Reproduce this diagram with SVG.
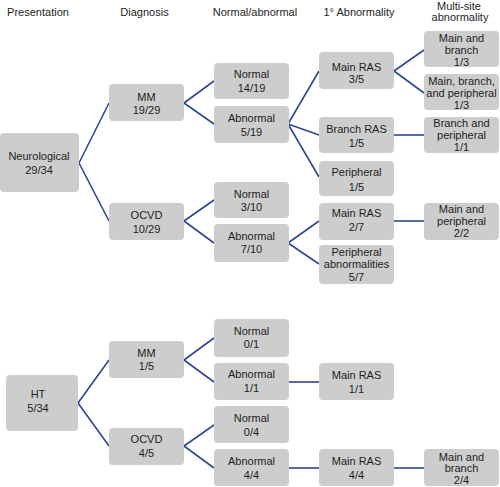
<svg xmlns="http://www.w3.org/2000/svg" width="500" height="487" viewBox="0 0 500 487">
<style>
text{font-family:"Liberation Sans",Arial,sans-serif;font-size:11px;fill:#1e1e1e;text-anchor:middle}
.box{fill:#cdcdcd;stroke:none}
.conn line{stroke:#2f4592;stroke-width:1.6;fill:none}
</style>
<rect width="500" height="487" fill="#ffffff"/>
<g id="headers">
<text x="38" y="16">Presentation</text>
<text x="144.5" y="16">Diagnosis</text>
<text x="255" y="16">Normal/abnormal</text>
<text x="359" y="16">1° Abnormality</text>
<text x="459" y="10">Multi-site</text>
<text x="460" y="21">abnormality</text>
</g>
<g class="conn" id="connectors">
<line x1="79" y1="163" x2="109" y2="103"/>
<line x1="79" y1="163" x2="109" y2="221"/>
<line x1="184" y1="103" x2="214" y2="81"/>
<line x1="184" y1="103" x2="214" y2="124"/>
<line x1="184" y1="221" x2="214" y2="200"/>
<line x1="184" y1="221" x2="214" y2="243"/>
<line x1="288" y1="124" x2="319" y2="71"/>
<line x1="288" y1="124" x2="319" y2="135"/>
<line x1="288" y1="124" x2="319" y2="177"/>
<line x1="394" y1="71" x2="424" y2="50"/>
<line x1="394" y1="71" x2="424" y2="93"/>
<line x1="394" y1="135" x2="424" y2="135"/>
<line x1="288" y1="243" x2="319" y2="221"/>
<line x1="288" y1="243" x2="319" y2="264"/>
<line x1="394" y1="221" x2="424" y2="221"/>
<line x1="78" y1="403" x2="109" y2="360"/>
<line x1="78" y1="403" x2="109" y2="446"/>
<line x1="184" y1="360" x2="214" y2="338"/>
<line x1="184" y1="360" x2="214" y2="382"/>
<line x1="184" y1="446" x2="214" y2="425"/>
<line x1="184" y1="446" x2="214" y2="468"/>
<line x1="289" y1="382" x2="319" y2="382"/>
<line x1="289" y1="468" x2="319" y2="468"/>
<line x1="394" y1="468" x2="424" y2="468"/>
</g>
<g id="neuro"><rect class="box" x="0" y="133" width="79" height="59" rx="4"/><text x="39" y="160">Neurological</text><text x="39" y="174">29/34</text></g>
<g id="ht"><rect class="box" x="6" y="375" width="72" height="56" rx="4"/><text x="38" y="398">HT</text><text x="38" y="412">5/34</text></g>

<g id="n-mm"><rect class="box" x="109" y="84" width="75" height="37" rx="4"/><text x="146.5" y="101">MM</text><text x="146.5" y="114">19/29</text></g>
<g id="n-ocvd"><rect class="box" x="109" y="203" width="75" height="37" rx="4"/><text x="146.5" y="219">OCVD</text><text x="146.5" y="233">10/29</text></g>
<g id="h-mm"><rect class="box" x="109" y="341" width="75" height="37" rx="4"/><text x="146.5" y="357">MM</text><text x="146.5" y="370">1/5</text></g>
<g id="h-ocvd"><rect class="box" x="109" y="428" width="75" height="37" rx="4"/><text x="146.5" y="443">OCVD</text><text x="146.5" y="457">4/5</text></g>

<g id="n-mm-normal"><rect class="box" x="214" y="63" width="75" height="36" rx="4"/><text x="251.5" y="78">Normal</text><text x="251.5" y="92">14/19</text></g>
<g id="n-mm-abn"><rect class="box" x="214" y="106" width="75" height="37" rx="4"/><text x="251.5" y="122">Abnormal</text><text x="251.5" y="136">5/19</text></g>
<g id="n-ocvd-normal"><rect class="box" x="214" y="182" width="75" height="36" rx="4"/><text x="251.5" y="198">Normal</text><text x="251.5" y="211">3/10</text></g>
<g id="n-ocvd-abn"><rect class="box" x="214" y="224" width="75" height="38" rx="4"/><text x="251.5" y="240">Abnormal</text><text x="251.5" y="253">7/10</text></g>
<g id="h-mm-normal"><rect class="box" x="214" y="319" width="75" height="38" rx="4"/><text x="251.5" y="335">Normal</text><text x="251.5" y="348">0/1</text></g>
<g id="h-mm-abn"><rect class="box" x="214" y="363" width="75" height="37" rx="4"/><text x="251.5" y="378">Abnormal</text><text x="251.5" y="392">1/1</text></g>
<g id="h-ocvd-normal"><rect class="box" x="214" y="406" width="75" height="37" rx="4"/><text x="251.5" y="422">Normal</text><text x="251.5" y="436">0/4</text></g>
<g id="h-ocvd-abn"><rect class="box" x="214" y="449" width="75" height="37" rx="4"/><text x="251.5" y="465">Abnormal</text><text x="251.5" y="479">4/4</text></g>

<g id="n-main"><rect class="box" x="319" y="52" width="75" height="37" rx="4"/><text x="356.5" y="71">Main RAS</text><text x="356.5" y="83">3/5</text></g>
<g id="n-branch"><rect class="box" x="319" y="117" width="75" height="36" rx="4"/><text x="356.5" y="133">Branch RAS</text><text x="356.5" y="147">1/5</text></g>
<g id="n-periph"><rect class="box" x="319" y="161" width="75" height="35" rx="4"/><text x="356.5" y="176">Peripheral</text><text x="356.5" y="191">1/5</text></g>
<g id="o-main"><rect class="box" x="319" y="203" width="75" height="37" rx="4"/><text x="356.5" y="217">Main RAS</text><text x="356.5" y="231">2/7</text></g>
<g id="o-periph"><rect class="box" x="319" y="245" width="75" height="39" rx="4"/><text x="356.5" y="256">Peripheral</text><text x="356.5" y="268">abnormalities</text><text x="356.5" y="281">5/7</text></g>
<g id="h-main1"><rect class="box" x="319" y="363" width="75" height="37" rx="4"/><text x="356.5" y="379">Main RAS</text><text x="356.5" y="393">1/1</text></g>
<g id="h-main4"><rect class="box" x="319" y="449" width="75" height="37" rx="4"/><text x="356.5" y="465">Main RAS</text><text x="356.5" y="479">4/4</text></g>

<g id="m-mb"><rect class="box" x="424" y="31" width="75" height="36" rx="4"/><text x="461.5" y="42">Main and</text><text x="461.5" y="54">branch</text><text x="461.5" y="66">1/3</text></g>
<g id="m-mbp"><rect class="box" x="424" y="74" width="75" height="36" rx="4"/><text x="461.5" y="85">Main, branch,</text><text x="461.5" y="97">and peripheral</text><text x="461.5" y="109">1/3</text></g>
<g id="m-bp"><rect class="box" x="424" y="117" width="75" height="36" rx="4"/><text x="461.5" y="127">Branch and</text><text x="461.5" y="139">peripheral</text><text x="461.5" y="151">1/1</text></g>
<g id="m-mp"><rect class="box" x="424" y="203" width="75" height="37" rx="4"/><text x="461.5" y="213">Main and</text><text x="461.5" y="225">peripheral</text><text x="461.5" y="237">2/2</text></g>
<g id="m-mb2"><rect class="box" x="424" y="449" width="75" height="37" rx="4"/><text x="461.5" y="461">Main and</text><text x="461.5" y="472">branch</text><text x="461.5" y="484">2/4</text></g>
</svg>
